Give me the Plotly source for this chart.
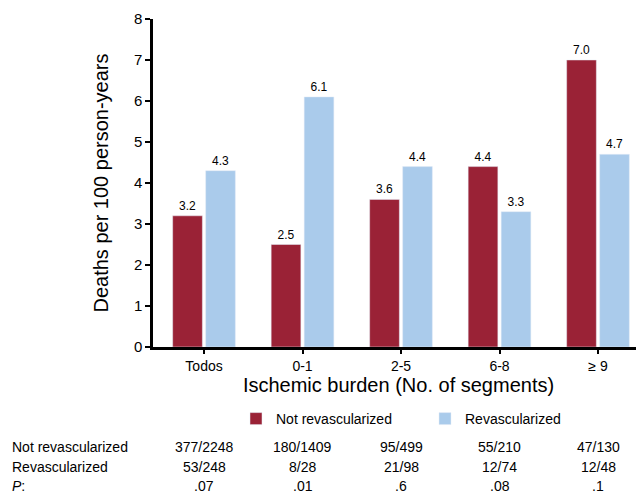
import plotly.graph_objects as go

categories = ["Todos", "0-1", "2-5", "6-8", "≥ 9"]
not_revasc = [3.2, 2.5, 3.6, 4.4, 7.0]
revasc = [4.3, 6.1, 4.4, 3.3, 4.7]
table_not = ["377/2248", "180/1409", "95/499", "55/210", "47/130"]
table_rev = ["53/248", "8/28", "21/98", "12/74", "12/48"]
table_p = [".07", ".01", ".6", ".08", ".1"]
row_labels = ["Not revascularized", "Revascularized", "<i>P</i>:"]

RED = "#9A2236"
BLUE = "#AACBEB"
FONT = "Liberation Sans, Arial, sans-serif"
OFF = 8  # page body margin
W, H = 644 - OFF, 500 - OFF
left, right, top, bottom = 153 - OFF, 0, 19 - OFF, 153
plot_w = W - left - right
plot_h = H - top - bottom

fig = go.Figure()
fig.add_bar(x=categories, y=not_revasc, name="Not revascularized", marker_color=RED,
            text=[f"{v:.1f}" for v in not_revasc], textposition="outside",
            textfont=dict(size=12, color="black"), cliponaxis=False)
fig.add_bar(x=categories, y=revasc, name="Revascularized", marker_color=BLUE,
            text=[f"{v:.1f}" for v in revasc], textposition="outside",
            textfont=dict(size=12, color="black"), cliponaxis=False)

annotations = []
rows = [table_not, table_rev, table_p]
row_y = [447, 467, 486]
for r, (vals, py) in enumerate(zip(rows, row_y)):
    yp = (H - bottom - (py - OFF)) / plot_h
    annotations.append(dict(text=row_labels[r], x=(10 - OFF - left) / plot_w, xref="paper", xanchor="left",
                            y=yp, yref="paper", yanchor="middle", showarrow=False,
                            font=dict(size=14, color="black", family=FONT)))
    for c, v in zip(categories, vals):
        annotations.append(dict(text=v, x=c, xref="x", xanchor="center",
                                y=yp, yref="paper", yanchor="middle", showarrow=False,
                                font=dict(size=14, color="black", family=FONT)))

fig.update_layout(
    width=W, height=H,
    margin=dict(l=left, r=right, t=top, b=bottom, autoexpand=False),
    plot_bgcolor="white", paper_bgcolor="white",
    font=dict(family=FONT, color="black"),
    barmode="group", bargap=0.33, bargroupgap=0.1,
    showlegend=True,
    legend=dict(orientation="h", xref="container", yref="container",
                x=(236 - OFF) / W, xanchor="left", y=1 - (419 - OFF) / H, yanchor="middle",
                font=dict(size=14, color="black"), itemwidth=30,
                entrywidthmode="pixels", entrywidth=144, bgcolor="rgba(0,0,0,0)"),
    xaxis=dict(range=[-0.518, 4.467], showline=True, linecolor="black", linewidth=2.5,
               ticks="outside", ticklen=4, tickwidth=2, tickcolor="black",
               tickfont=dict(size=14), showgrid=False, automargin=False,
               title=dict(text="Ischemic burden (No. of segments)", font=dict(size=20), standoff=6)),
    yaxis=dict(range=[0, 8], dtick=1, showline=True, linecolor="black", linewidth=2.5,
               ticks="outside", ticklen=5, tickwidth=2, tickcolor="black",
               tickfont=dict(size=15), showgrid=False, zeroline=False, automargin=False,
               title=dict(text="Deaths per 100 person-years", font=dict(size=20), standoff=20)),
    annotations=annotations,
)
fig.write_html("out.html")
